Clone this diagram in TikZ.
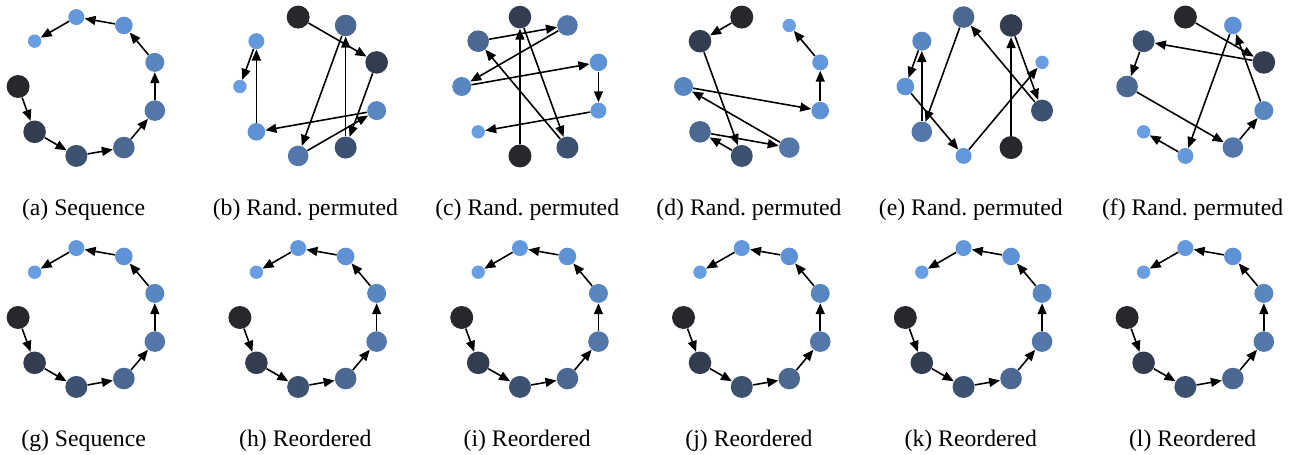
\documentclass[tikz,border=0pt]{standalone}
\usepackage{fontspec}
\setmainfont{Liberation Serif}
\usepackage{xcolor}
\usetikzlibrary{arrows.meta}

\definecolor{c1}{HTML}{27282C}
\definecolor{c2}{HTML}{323D4F}
\definecolor{c3}{HTML}{3C5270}
\definecolor{c4}{HTML}{4A6890}
\definecolor{c5}{HTML}{5277A8}
\definecolor{c6}{HTML}{5886C0}
\definecolor{c7}{HTML}{5F92D4}
\definecolor{c8}{HTML}{6498DC}
\definecolor{c9}{HTML}{6A9EE2}

\tikzset{
  vtx/.style={circle, inner sep=0pt, draw=none},
  link/.style={-{Triangle[length=0.22cm,width=0.18cm]}, line width=0.9pt},
  subcap/.style={font=\fontsize{13.5}{16}\selectfont},
}

\begin{document}
\begin{tikzpicture}
    \useasboundingbox (0,0) rectangle (26.02,-9.1);

    \foreach \p/\col/\row/\slots/\txt in {
        a/0/0/{0,1,2,3,4,5,6,7,8}/{(a) Sequence},
        b/1/0/{7,5,3,6,2,4,1,8,0}/{(b) Rand.\ permuted},
        c/2/0/{2,7,3,8,6,0,5,4,1}/{(c) Rand.\ permuted},
        d/3/0/{7,8,2,1,3,0,4,5,6}/{(d) Rand.\ permuted},
        e/4/0/{3,6,4,7,1,8,0,2,5}/{(e) Rand.\ permuted},
        f/5/0/{7,5,8,0,3,4,6,2,1}/{(f) Rand.\ permuted},
        g/0/1/{0,1,2,3,4,5,6,7,8}/{(g) Sequence},
        h/1/1/{0,1,2,3,4,5,6,7,8}/{(h) Reordered},
        i/2/1/{0,1,2,3,4,5,6,7,8}/{(i) Reordered},
        j/3/1/{0,1,2,3,4,5,6,7,8}/{(j) Reordered},
        k/4/1/{0,1,2,3,4,5,6,7,8}/{(k) Reordered},
        l/5/1/{0,1,2,3,4,5,6,7,8}/{(l) Reordered}} {
      \begin{scope}[shift={(1.772+4.436*\col, -1.73-4.62*\row)}]
        % vertices on the ring, slot s sits at 180+40s degrees
        \foreach [count=\i] \s in \slots {
          \pgfmathsetmacro{\dia}{{23,22.6,22,21.6,20.6,19,17.6,16,13.4}[\i-1]/50}
          \node[vtx, fill=c\i, minimum size=\dia cm] (\p\i) at ({180+40*\s}:1.41) {};
        }
        \foreach \i in {1,...,8} {
          \pgfmathtruncatemacro{\j}{\i+1}
          \draw[link] (\p\i) -- (\p\j);
        }
        \node[subcap] (\p cap) at (-0.1, -2.47) {\txt};
      \end{scope}
    }
\end{tikzpicture}
\end{document}
